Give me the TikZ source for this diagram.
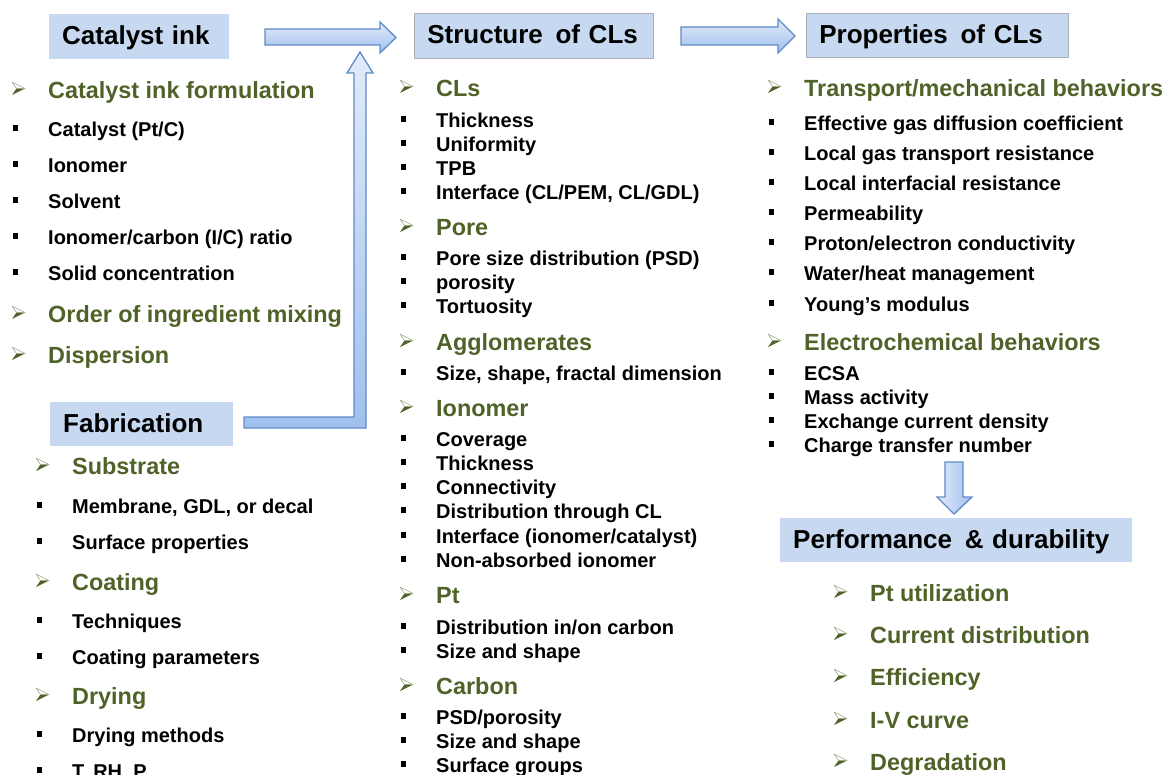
\documentclass[tikz,border=0pt]{standalone}
\usepackage{fontspec}
\setmainfont{Liberation Sans}
\usetikzlibrary{calc}
\definecolor{hdrblue}{RGB}{198,217,240}
\definecolor{hdredge}{RGB}{170,175,185}
\definecolor{olive}{RGB}{79,98,40}
\definecolor{arrowedge}{RGB}{95,138,200}
\definecolor{arrtop}{RGB}{226,235,250}
\definecolor{arrbot}{RGB}{160,192,238}
\tikzset{
  hdr/.style={fill=hdrblue, anchor=north west, inner xsep=13pt, inner ysep=0pt,
    text height=20.5pt, text depth=4.5pt,
    minimum height=45pt, align=left, font=\fontsize{26}{30}\selectfont\bfseries},
  hdrb/.style={hdr, draw=hdredge, line width=0.6pt},
  grn/.style={anchor=base west, inner sep=0pt, yshift=-8.3pt, text=olive,
    font=\fontsize{23.4}{27}\selectfont\bfseries},
  blk/.style={anchor=base west, inner sep=0pt, yshift=-7.2pt,
    font=\fontsize{20}{24}\selectfont\bfseries},
  sqbul/.style={fill=black, inner sep=0pt, minimum size=5.5pt, rectangle},
  blockarrow/.style={draw=arrowedge, line width=1.3pt, top color=arrtop,
    bottom color=arrbot, line join=miter},
  vblockarrow/.style={draw=arrowedge, line width=1.3pt, left color=arrtop,
    right color=arrbot, line join=miter},
  abul/.pic={
    \fill[olive] (0,6.5) -- (13,0) -- (4.5,0) -- cycle;
    \draw[olive!55, fill=white, line width=0.6pt, line join=round] (0,-6.5) -- (13,0) -- (4.5,0) -- cycle;
  }
}
\newcommand\GItem[4]{\pic at (#2,{#3-1.5}) {abul};
  \node[grn] (#1) at ({#2+36},#3) {#4};}
\newcommand\BItem[4]{\node[sqbul] (#1b) at ({#2+3.5},{#3-1}) {};
  \node[blk] (#1) at ({#2+36},#3) {#4};}
\begin{document}
\begin{tikzpicture}[x=1pt,y=-1pt]
\useasboundingbox (0,0) rectangle (1164,775);
% headers
\node[hdr, text width=154pt, minimum height=45pt] (ink) at (49,14) {Catalyst ink};
\node[hdrb, text width=213pt, minimum height=45pt] (struct) at (414,13) {Structure\hspace{4pt} of CLs};
\node[hdrb, text width=236pt, minimum height=44pt] (prop) at (806,13) {Properties\hspace{4pt} of CLs};
\node[hdr, text width=157pt, minimum height=44pt] (fab) at (50,402) {Fabrication};
\node[hdr, text width=326pt, minimum height=44pt] (perf) at (780,518) {Performance\hspace{4pt} \& durability};
% block arrows
\draw[blockarrow] (265,29) -- (380,29) -- (380,22) -- (396,37.5) -- (380,53) -- (380,45) -- (265,45) -- cycle;
\draw[blockarrow] (681,27) -- (778,27) -- (778,19) -- (795,36) -- (778,53) -- (778,45) -- (681,45) -- cycle;
\draw[blockarrow] (244,417) -- (354,417) -- (354,73) -- (347,73) -- (360,52) -- (373,73) -- (366,73) -- (366,428) -- (244,428) -- cycle;
\draw[vblockarrow] (945,462) -- (963,462) -- (963,497) -- (972,497) -- (954,514) -- (937,497) -- (945,497) -- cycle;
% left column
\GItem{l1}{12}{90}{Catalyst ink formulation}
\BItem{l2}{12}{129}{Catalyst (Pt/C)}
\BItem{l3}{12}{165}{Ionomer}
\BItem{l4}{12}{201}{Solvent}
\BItem{l5}{12}{237}{Ionomer/carbon (I/C) ratio}
\BItem{l6}{12}{273}{Solid concentration}
\GItem{l7}{12}{314}{Order of ingredient mixing}
\GItem{l8}{12}{355}{Dispersion}
% fabrication
\GItem{f1}{36}{466}{Substrate}
\BItem{f2}{36}{506}{Membrane, GDL, or decal}
\BItem{f3}{36}{542}{Surface properties}
\GItem{f4}{36}{582}{Coating}
\BItem{f5}{36}{621}{Techniques}
\BItem{f6}{36}{657}{Coating parameters}
\GItem{f7}{36}{696}{Drying}
\BItem{f8}{36}{735}{Drying methods}
\BItem{f9}{36}{771}{T, RH, P}
% middle column
\GItem{m1}{400}{88}{CLs}
\BItem{m2}{400}{120}{Thickness}
\BItem{m3}{400}{144}{Uniformity}
\BItem{m4}{400}{168}{TPB}
\BItem{m5}{400}{192}{Interface (CL/PEM, CL/GDL)}
\GItem{m6}{400}{227}{Pore}
\BItem{m7}{400}{258}{Pore size distribution (PSD)}
\BItem{m8}{400}{282}{porosity}
\BItem{m9}{400}{306}{Tortuosity}
\GItem{m10}{400}{342}{Agglomerates}
\BItem{m11}{400}{373}{Size, shape, fractal dimension}
\GItem{m12}{400}{408}{Ionomer}
\BItem{m13}{400}{439}{Coverage}
\BItem{m14}{400}{463}{Thickness}
\BItem{m15}{400}{487}{Connectivity}
\BItem{m16}{400}{511}{Distribution through CL}
\BItem{m17}{400}{536}{Interface (ionomer/catalyst)}
\BItem{m18}{400}{560}{Non-absorbed ionomer}
\GItem{m19}{400}{595}{Pt}
\BItem{m20}{400}{627}{Distribution in/on carbon}
\BItem{m21}{400}{651}{Size and shape}
\GItem{m22}{400}{686}{Carbon}
\BItem{m23}{400}{717}{PSD/porosity}
\BItem{m24}{400}{741}{Size and shape}
\BItem{m25}{400}{765}{Surface groups}
% right column
\GItem{r1}{768}{88}{Transport/mechanical behaviors}
\BItem{r2}{768}{123}{Effective gas diffusion coefficient}
\BItem{r3}{768}{153}{Local gas transport resistance}
\BItem{r4}{768}{183}{Local interfacial resistance}
\BItem{r5}{768}{213}{Permeability}
\BItem{r6}{768}{243}{Proton/electron conductivity}
\BItem{r7}{768}{273}{Water/heat management}
\BItem{r8}{768}{304}{Young’s modulus}
\GItem{r9}{768}{342}{Electrochemical behaviors}
\BItem{r10}{768}{373}{ECSA}
\BItem{r11}{768}{397}{Mass activity}
\BItem{r12}{768}{421}{Exchange current density}
\BItem{r13}{768}{445}{Charge transfer number}
% performance
\GItem{p1}{834}{593}{Pt utilization}
\GItem{p2}{834}{635}{Current distribution}
\GItem{p3}{834}{677}{Efficiency}
\GItem{p4}{834}{720}{I-V curve}
\GItem{p5}{834}{762}{Degradation}
\end{tikzpicture}
\end{document}
